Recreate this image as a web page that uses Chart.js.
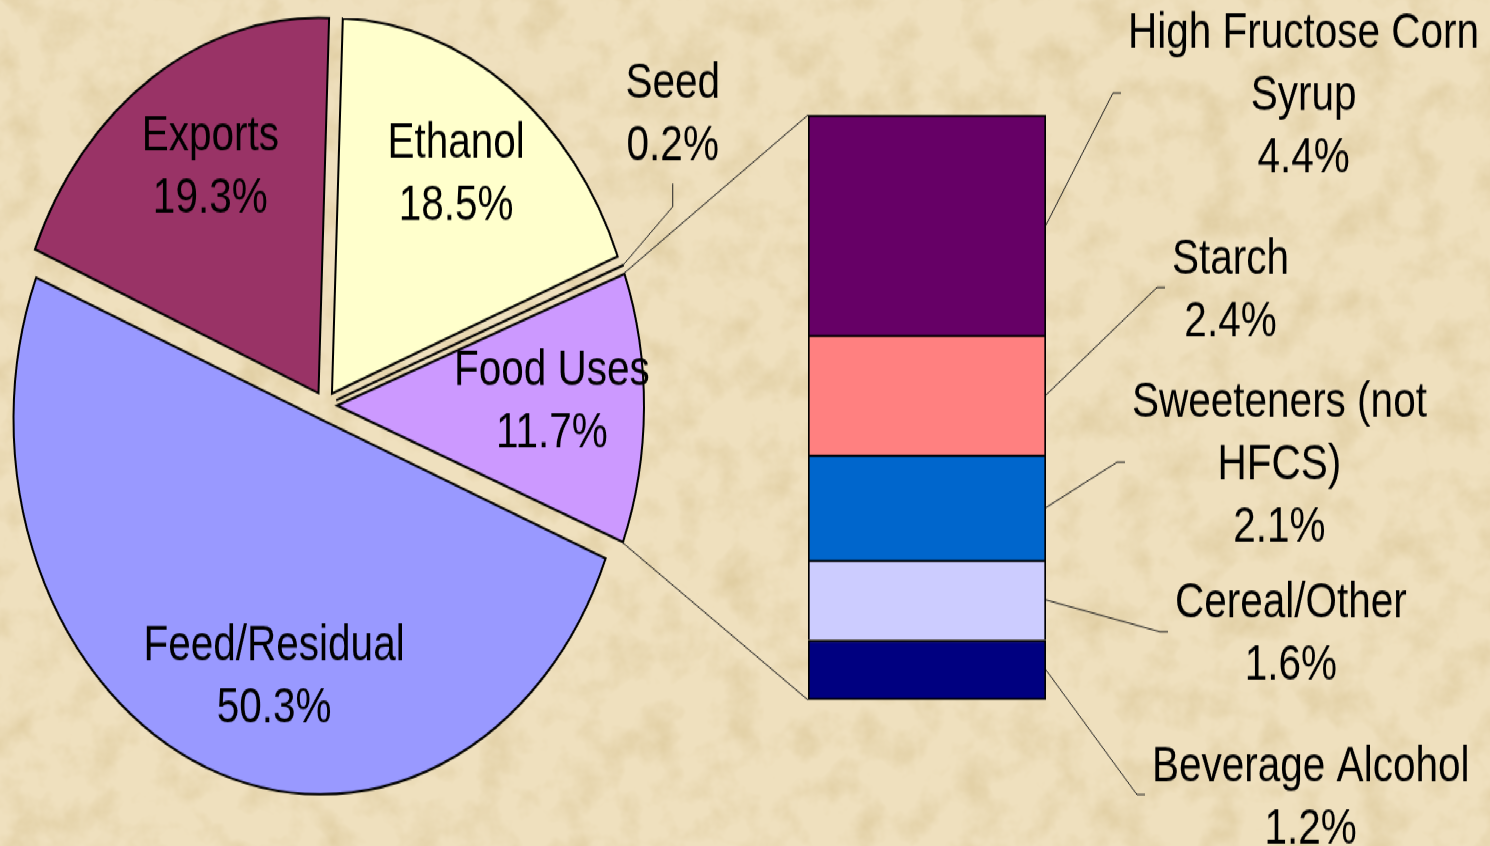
<!DOCTYPE html>
<html lang="en">
<head>
<meta charset="utf-8">
<title>Corn usage — pie of bar</title>
<script src="https://cdn.jsdelivr.net/npm/chart.js@4.4.1/dist/chart.umd.min.js"></script>
<style>
  html, body { margin: 0; padding: 0; }
  body {
    width: 1490px; height: 846px; overflow: hidden;
    background-color: #efe0be;
    background-image: url("data:image/svg+xml;utf8,<svg xmlns='http://www.w3.org/2000/svg' width='1490' height='846'><filter id='n'><feTurbulence type='fractalNoise' baseFrequency='0.025' numOctaves='4' seed='7'/><feColorMatrix values='0 0 0 0 0.66  0 0 0 0 0.52  0 0 0 0 0.26  0 0 0 1.1 -0.48'/></filter><rect width='100%' height='100%' filter='url(%23n)'/></svg>");
  }
  /* the original slide is stretched vertically, so is the whole stage */
  #stage {
    position: absolute; left: 0; top: 0;
    width: 1490px; height: 692px;
    transform: scaleY(1.2225); transform-origin: 0 0;
  }
  #stage canvas { position: absolute; left: 0; top: 0; }
</style>
</head>
<body>
<div id="stage">
  <canvas id="chart-pie" width="1490" height="692"></canvas>
  <canvas id="chart-bar" width="1490" height="692"></canvas>
</div>
<script>
/* ── Pie data (clockwise from 12 o'clock) ─────────────────── */
const pieCategories = ['Ethanol', 'Seed', 'Food Uses', 'Feed/Residual', 'Exports'];
const pieValues     = [18.5, 0.2, 11.7, 50.3, 19.3];
const pieColors     = ['#FFFFCC', '#CCFFFF', '#CC99FF', '#9999FF', '#993366'];
const SPLIT_INDEX   = 2;   // 'Food Uses' is broken out into the bar

/* ── Bar data (top to bottom) ─────────────────────────────── */
const otherCategories = ['High Fructose Corn Syrup', 'Starch', 'Sweeteners (not HFCS)', 'Cereal/Other', 'Beverage Alcohol'];
const otherValues     = [4.4, 2.4, 2.1, 1.6, 1.2];
const otherColors     = ['#660066', '#FF8080', '#0066CC', '#CCCCFF', '#000080'];

/* ── Layout ───────────────────────────────────────────────── */
const FONT      = '40.5px "Liberation Sans", Arial, sans-serif';
const LINE_H    = 51;
const CAP_MID   = 14;     // baseline below the visual middle of a line
const PIE_R     = 307;
const EXPLODE   = 48;     // chart.js offset (drawn shift = offset / 4)
const LABEL_K   = 0.7;
const pieNudge  = [[0, -6], [0, 0], [0, -7], [34, 9], [8, -6]];
const smallLeader = { dx: 50, dy: -48, rise: 19, gap: 33 };
const barLeaders  = [[67, -108], [111, -88], [71, -37], [114, 26], [91, 102]];
const LEADER_TAIL = 8;
const TEXT_GAP    = 7;

/* ── Helpers ──────────────────────────────────────────────── */
function sliceVertex(arc) {
  const mid = (arc.startAngle + arc.endAngle) / 2;
  const t   = (arc.options.offset || 0) / 4;
  return { mid, x: arc.x + Math.cos(mid) * t, y: arc.y + Math.sin(mid) * t };
}

function wrapText(ctx, text, maxW) {
  const words = text.split(' ');
  const lines = [];
  let cur = '';
  words.forEach(w => {
    const test = cur ? cur + ' ' + w : w;
    if (cur && ctx.measureText(test).width > maxW) { lines.push(cur); cur = w; }
    else cur = test;
  });
  lines.push(cur);
  return lines;
}

function drawLines(ctx, lines, cx, cy) {
  lines.forEach((l, j) => {
    ctx.fillText(l, cx, cy + (j - (lines.length - 1) / 2) * LINE_H + CAP_MID);
  });
}

function polyline(ctx, pts) {
  ctx.beginPath();
  ctx.moveTo(pts[0][0], pts[0][1]);
  pts.slice(1).forEach(p => ctx.lineTo(p[0], p[1]));
  ctx.stroke();
}

/* ── Pie: keep every slice at the same radius, then labels ── */
const pieRadiusFix = {
  id: 'pieRadiusFix',
  afterUpdate(chart) {
    chart.getDatasetMeta(0).data.forEach(arc => {
      const t   = (arc.options.offset || 0) / 4;
      const fix = 1 - Math.sin(Math.min(Math.PI, arc.circumference));
      arc.outerRadius -= t * fix;
    });
  },
};

const pieLabels = {
  id: 'pieLabels',
  afterDraw(chart) {
    const ctx = chart.ctx;
    ctx.save();
    ctx.font = FONT;
    ctx.fillStyle = '#000';
    ctx.textAlign = 'center';
    ctx.strokeStyle = '#222';
    ctx.lineWidth = 1;
    chart.getDatasetMeta(0).data.forEach((arc, i) => {
      const v = sliceVertex(arc);
      const lines = [pieCategories[i], pieValues[i].toFixed(1) + '%'];
      if (pieValues[i] < 1) {
        /* tiny slice: label outside with a leader */
        const sx = v.x + Math.cos(v.mid) * PIE_R;
        const sy = v.y + Math.sin(v.mid) * PIE_R;
        const ex = sx + smallLeader.dx, ey = sy + smallLeader.dy;
        const top = ey - smallLeader.rise;
        polyline(ctx, [[sx, sy], [ex, ey], [ex, top]]);
        drawLines(ctx, lines, ex, top - smallLeader.gap - LINE_H / 2);
      } else {
        const lx = v.x + Math.cos(v.mid) * PIE_R * LABEL_K + pieNudge[i][0];
        const ly = v.y + Math.sin(v.mid) * PIE_R * LABEL_K + pieNudge[i][1];
        drawLines(ctx, lines, lx, ly);
      }
    });
    ctx.restore();
  },
};

const pieChart = new Chart(document.getElementById('chart-pie'), {
  type: 'pie',
  data: {
    labels: pieCategories,
    datasets: [{
      data            : pieValues,
      backgroundColor : pieColors,
      borderColor     : '#000',
      borderWidth     : 2,
      borderJoinStyle : 'miter',
      offset          : EXPLODE,
    }],
  },
  options: {
    responsive : false,
    animation  : false,
    events     : [],
    radius     : PIE_R,
    rotation   : 2,
    layout     : { padding: { left: 0, right: 840, top: 0, bottom: 28.6 } },
    plugins    : { legend: { display: false }, tooltip: { enabled: false } },
  },
  plugins: [pieRadiusFix, pieLabels],
});

/* ── Bar: connectors to the split slice, leaders and labels ─ */
const barLabels = {
  id: 'barLabels',
  afterDraw(chart) {
    const ctx = chart.ctx;
    const n   = otherValues.length;
    const seg = i => chart.getDatasetMeta(n - 1 - i).data[0];
    const top = seg(0), bottom = seg(n - 1);
    const left = top.x - top.width / 2, right = top.x + top.width / 2;

    ctx.save();
    ctx.strokeStyle = '#222';
    ctx.lineWidth = 1;

    /* connectors from the exploded slice to the bar */
    const arc = pieChart.getDatasetMeta(0).data[SPLIT_INDEX];
    const v = sliceVertex(arc);
    polyline(ctx, [[v.x + Math.cos(arc.startAngle) * PIE_R, v.y + Math.sin(arc.startAngle) * PIE_R], [left, top.y]]);
    polyline(ctx, [[v.x + Math.cos(arc.endAngle) * PIE_R, v.y + Math.sin(arc.endAngle) * PIE_R], [left, bottom.base]]);

    ctx.font = FONT;
    ctx.fillStyle = '#000';
    ctx.textAlign = 'center';
    otherCategories.forEach((name, i) => {
      const el = seg(i);
      const sy = (el.y + el.base) / 2;
      const ex = right + barLeaders[i][0], ey = sy + barLeaders[i][1];
      polyline(ctx, [[right, sy], [ex, ey], [ex + LEADER_TAIL, ey]]);
      const lines = wrapText(ctx, name, 365).concat(otherValues[i].toFixed(1) + '%');
      const w = Math.max(...lines.map(l => ctx.measureText(l).width));
      drawLines(ctx, lines, ex + LEADER_TAIL + TEXT_GAP + w / 2, ey);
    });
    ctx.restore();
  },
};

const total = otherValues.reduce((a, b) => a + b, 0);

new Chart(document.getElementById('chart-bar'), {
  type: 'bar',
  data: {
    labels: [pieCategories[SPLIT_INDEX]],
    datasets: otherValues.map((_, k) => {
      const i = otherValues.length - 1 - k;   // bottom segment first
      return {
        label              : otherCategories[i],
        data               : [otherValues[i]],
        backgroundColor    : otherColors[i],
        borderColor        : '#000',
        borderWidth        : 2,
        borderSkipped      : k === 0 ? false : 'start',
        barPercentage      : 1,
        categoryPercentage : 1,
      };
    }),
  },
  options: {
    responsive : false,
    animation  : false,
    events     : [],
    layout     : { padding: { left: 808, right: 444, top: 94.1, bottom: 119.4 } },
    plugins    : { legend: { display: false }, tooltip: { enabled: false } },
    scales: {
      x: { display: false, stacked: true },
      y: { display: false, stacked: true, min: 0, max: total },
    },
  },
  plugins: [barLabels],
});
</script>
</body>
</html>
